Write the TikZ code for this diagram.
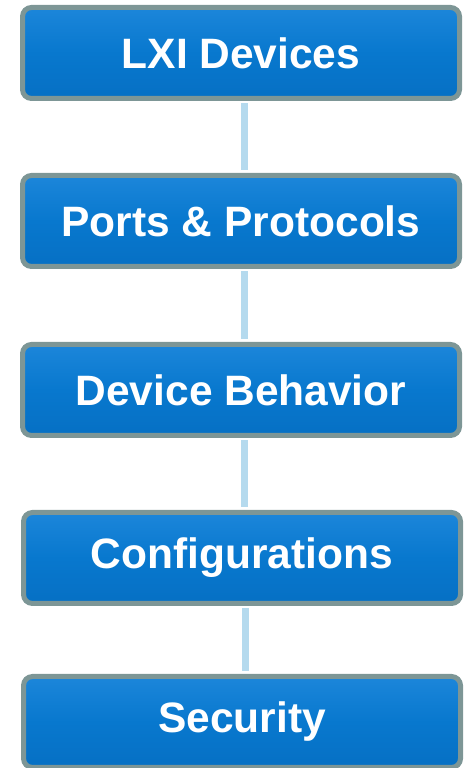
\documentclass[tikz,border=0pt]{standalone}
\usepackage{fontspec}
\setmainfont{Liberation Sans}
\definecolor{boxblue}{HTML}{0878CE}
\definecolor{boxtop}{HTML}{1C86DA}
\definecolor{boxbot}{HTML}{0670C4}
\definecolor{rimgray}{HTML}{7D9696}
\definecolor{linkblue}{HTML}{B5DAEE}
\tikzset{
  stepbox/.style={draw=rimgray, line width=5pt, rounded corners=9pt,
    top color=boxtop, bottom color=boxbot, middle color=boxblue,
    minimum width=437pt, minimum height=91pt, inner sep=0pt,
    text=white, font=\fontsize{42.5}{48}\selectfont\bfseries},
  link/.style={draw=linkblue, line width=7pt}
}
\begin{document}
\begin{tikzpicture}[x=1pt,y=1pt]
\useasboundingbox (0,0) rectangle (463,768);
\node[stepbox] (a) at (241,715) {LXI Devices};
\node[stepbox] (b) at (241,547) {Ports \& Protocols};
\node[stepbox] (c) at (241,378) {Device Behavior};
\node[stepbox] (d) at (242,210) {Configurations};
\node[stepbox] (e) at (242,46) {Security};
\foreach \u/\v in {a/b,b/c,c/d,d/e}{
  \path[link] ([xshift=3pt,yshift=-2.5pt]\u.south) -- ([xshift=3pt,yshift=2.5pt]\u.south |- \v.north);
}
\end{tikzpicture}
\end{document}
